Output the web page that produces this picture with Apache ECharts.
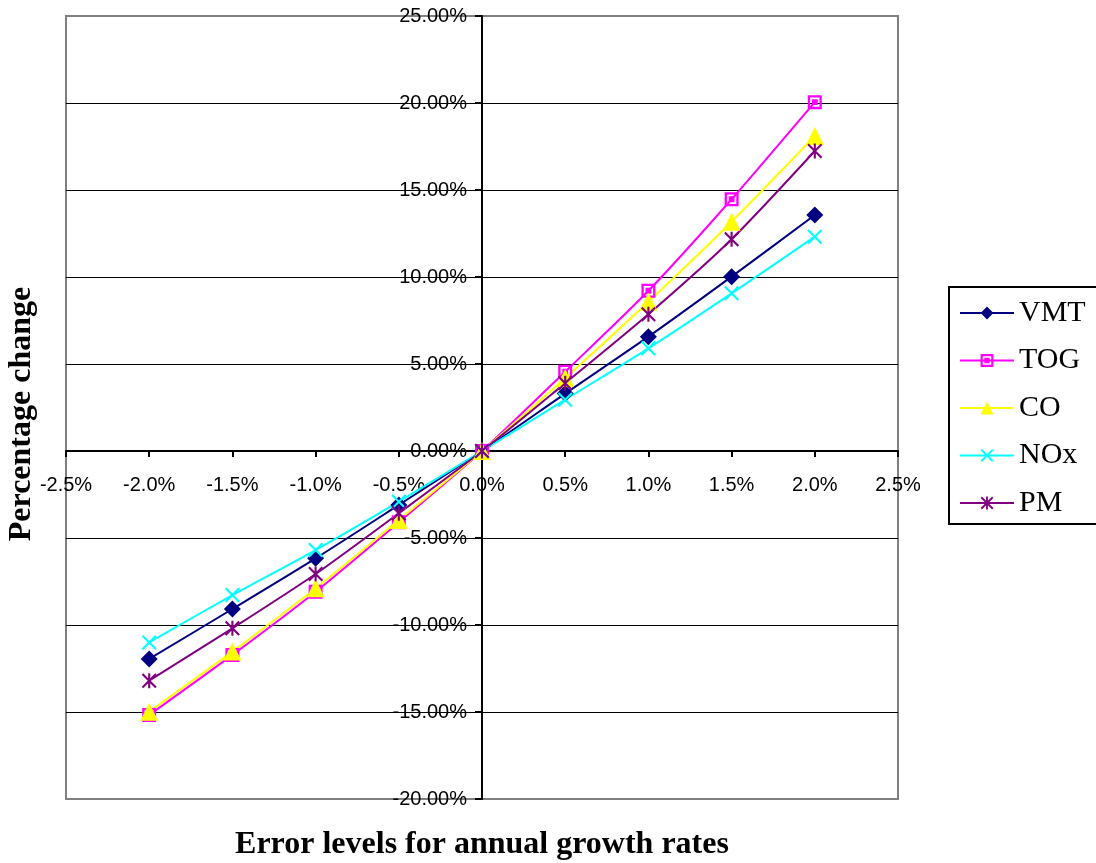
<!DOCTYPE html>
<html>
<head>
<meta charset="utf-8">
<script src="https://cdn.jsdelivr.net/npm/echarts@6/dist/echarts.min.js"></script>
<style>
html,body{margin:0;padding:0;background:#fff;}
#chart{width:1096px;height:863px;}
</style>
</head>
<body>
<div id="chart"></div>
<script>
var errorLevels = [-2.0, -1.5, -1.0, -0.5, 0.0, 0.5, 1.0, 1.5, 2.0];
var vmt = [-11.95, -9.08, -6.17, -3.10, 0, 3.30, 6.57, 10.02, 13.56];
var tog = [-15.17, -11.72, -8.09, -4.10, 0, 4.56, 9.21, 14.47, 20.05];
var co  = [-14.98, -11.53, -7.89, -3.97, 0, 4.20, 8.58, 13.18, 18.10];
var nox = [-11.00, -8.28, -5.69, -2.91, 0, 2.95, 5.90, 9.06, 12.32];
var pm  = [-13.20, -10.19, -7.07, -3.58, 0, 3.90, 7.86, 12.17, 17.24];
var seriesNames = ['VMT', 'TOG', 'CO', 'NOx', 'PM'];
var xTicks = {min: -2.5, max: 2.5, interval: 0.5};
var yTicks = {min: -20, max: 25, interval: 5};

var SYM_TOG = 'path://M0,0H12V12H0Z M2,2V10H10V2Z M3.5,3.5H8.5V8.5H3.5Z';
var SYM_X = 'path://M0,1 L1,0 L10,9 L9,10 Z M9,0 L10,1 L1,10 L0,9 Z';
var SYM_STAR = 'path://M0,1 L1,0 L10,9 L9,10 Z M9,0 L10,1 L1,10 L0,9 Z M4.3,0 H5.7 V10 H4.3 Z';

function pairs(vals){ return errorLevels.map(function(x,i){ return [x, vals[i]]; }); }
function mk(name, vals, color, symbol, size){
  return {
    name: name, type: 'line', data: pairs(vals), smooth: 0.25,
    symbol: symbol, symbolSize: size,
    lineStyle: {color: color, width: 2},
    itemStyle: {color: color, borderWidth: 0},
    emphasis: {disabled: true}
  };
}

var chart = echarts.init(document.getElementById('chart'), null, {renderer: 'canvas'});
chart.setOption({
  animation: false,
  backgroundColor: '#fff',
  grid: {left: 66, top: 16, right: 198, bottom: 64, show: true, borderColor: '#808080', borderWidth: 2,
    backgroundColor: 'transparent', containLabel: false, outerBoundsMode: 'none'},
  xAxis: {
    type: 'value', min: xTicks.min, max: xTicks.max, interval: xTicks.interval,
    position: 'bottom', offset: 0,
    axisLine: {onZero: false, lineStyle: {color: '#000', width: 2}},
    axisTick: {show: true, length: 6, lineStyle: {color: '#000', width: 2}},
    axisLabel: {margin: 24, color: '#000', fontFamily: 'Liberation Sans, Arial', fontSize: 20, hideOverlap: false,
      formatter: function(v){ return v.toFixed(1) + '%'; }},
    splitLine: {show: false}
  },
  yAxis: {
    type: 'value', min: yTicks.min, max: yTicks.max, interval: yTicks.interval,
    position: 'left', offset: 0,
    axisLine: {onZero: false, lineStyle: {color: '#000', width: 2}},
    axisTick: {show: true, length: 7, lineStyle: {color: '#000', width: 2}},
    axisLabel: {margin: 15, color: '#000', fontFamily: 'Liberation Sans, Arial', fontSize: 20, hideOverlap: false,
      padding: [3, 0, 0, 0],
      formatter: function(v){ return v.toFixed(2) + '%'; }},
    splitLine: {show: true, showMinLine: false, showMaxLine: false, lineStyle: {color: '#000', width: 1}}
  },
  legend: {
    orient: 'vertical', left: 949, top: 287,
    padding: [11, 40, 6, 10],
    borderColor: '#000', borderWidth: 2, backgroundColor: '#fff',
    itemWidth: 54, itemHeight: 16, itemGap: 17.5,
    textStyle: {fontFamily: 'Liberation Serif, Times New Roman', fontSize: 30, color: '#000', lineHeight: 29},
    data: seriesNames
  },
  graphic: [
    {type: 'text', x: 22, y: 414, rotation: Math.PI/2, style: {
      text: 'Percentage change', font: 'bold 32px "Liberation Serif", "Times New Roman"', fill: '#000',
      textAlign: 'center', textVerticalAlign: 'middle'}},
    {type: 'text', x: 482, y: 845, style: {
      text: 'Error levels for annual growth rates', font: 'bold 32px "Liberation Serif", "Times New Roman"', fill: '#000',
      textAlign: 'center', textVerticalAlign: 'middle'}}
  ],
  series: [
    mk('VMT', vmt, '#000080', 'diamond', 17),
    mk('TOG', tog, '#FF00FF', SYM_TOG, 14),
    mk('CO', co, '#FFFF00', 'triangle', 18),
    mk('NOx', nox, '#00FFFF', SYM_X, 15),
    mk('PM', pm, '#800080', SYM_STAR, 15)
  ]
});
// move axes to cross at zero using library's own scales
var origin = chart.convertToPixel({gridIndex: 0}, [0, 0]);
var bottomLeft = chart.convertToPixel({gridIndex: 0}, [xTicks.min, yTicks.min]);
chart.setOption({
  xAxis: {offset: -(bottomLeft[1] - origin[1])},
  yAxis: {offset: -(origin[0] - bottomLeft[0])}
});
</script>
</body>
</html>
